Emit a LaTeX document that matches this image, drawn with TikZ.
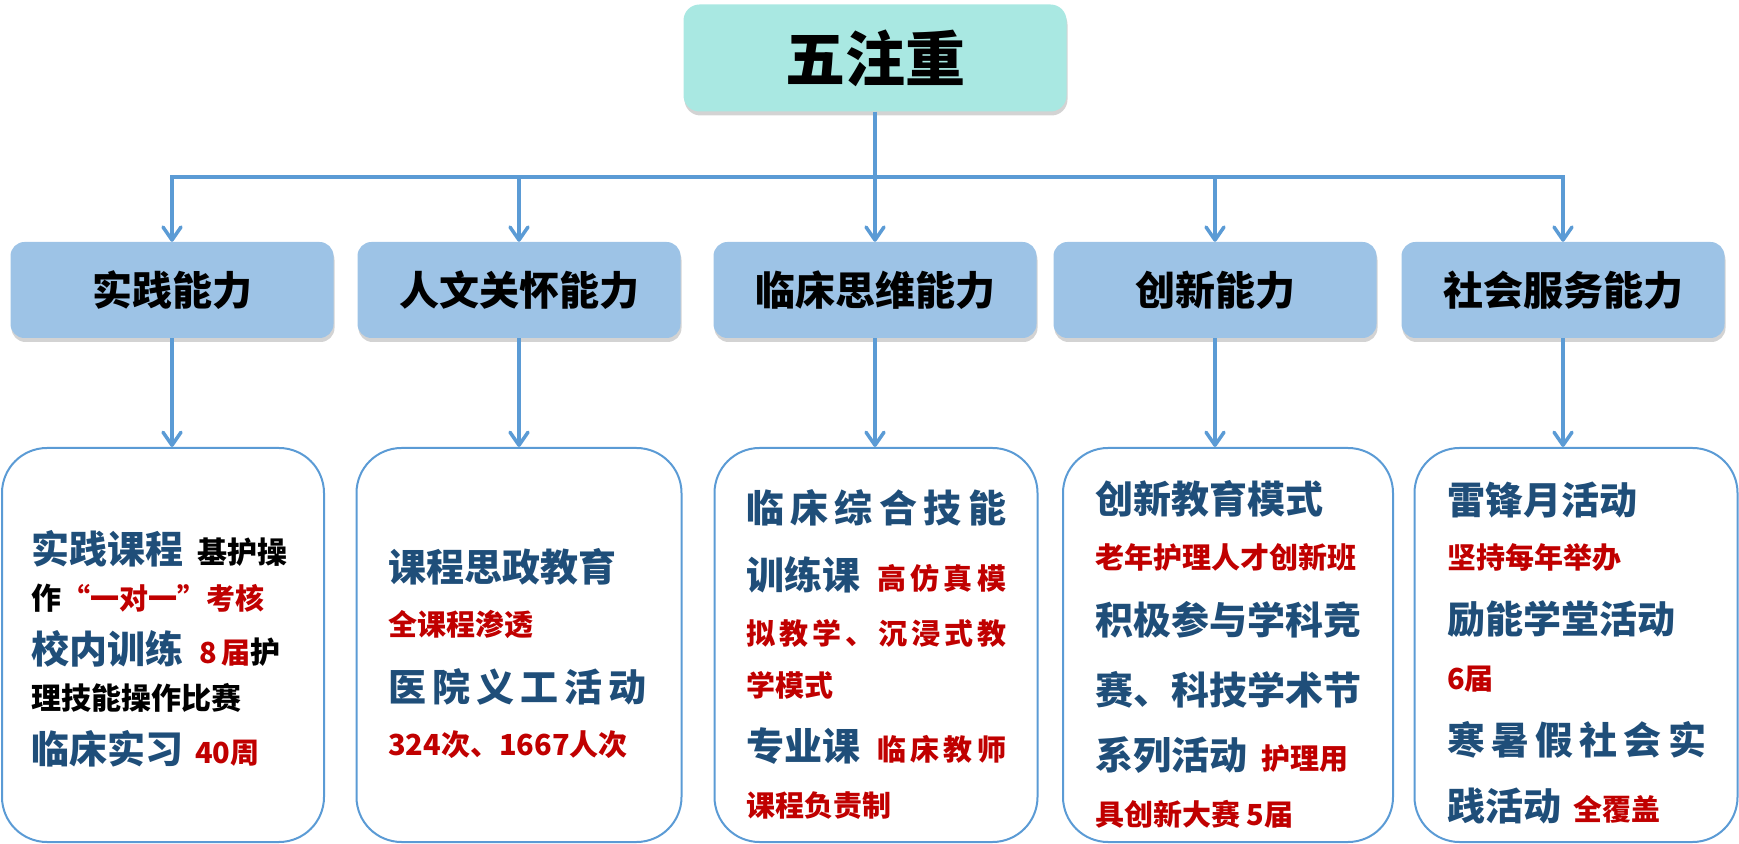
\documentclass[tikz,border=0pt]{standalone}
\usepackage{fontspec}
\setmainfont{Noto Sans CJK SC}
\newfontfamily\heavy{Noto Sans CJK SC}[UprightFont={* Black}]
\usetikzlibrary{arrows.meta, shadows}

\definecolor{headfill}{RGB}{169,232,226}
\definecolor{abilityfill}{RGB}{157,195,230}
\definecolor{linkblue}{RGB}{91,155,213}
\definecolor{deepblue}{RGB}{31,78,121}
\definecolor{darkred}{RGB}{192,0,0}

% text pieces inside the lower boxes
\newcommand{\hi}[1]{{\color{deepblue}\fontsize{38}{38}\selectfont #1}}
\newcommand{\nt}[1]{{\color{darkred}\fontsize{29}{29}\selectfont #1}}
\newcommand{\bk}[1]{{\color{black}\fontsize{30}{30}\selectfont #1}}
\newcommand{\spreadline}[2][260pt]{\makebox[#1][s]{\spaceskip=0pt plus 1fil #2}}

\begin{document}
\begin{tikzpicture}[x=1pt, y=1pt,
	headbox/.style={fill=headfill, rounded corners=16pt, minimum width=383pt, minimum height=107pt,
		drop shadow={shadow xshift=1pt, shadow yshift=-4pt, opacity=0.35},
		font=\heavy\fontsize{60}{60}\selectfont},
	abilitybox/.style={fill=abilityfill, rounded corners=14pt, minimum width=323pt, minimum height=96pt,
		drop shadow={shadow xshift=1pt, shadow yshift=-4pt, opacity=0.35},
		font=\heavy\fontsize{40}{40}\selectfont},
	detailbox/.style={draw=linkblue, line width=2pt, rounded corners=45pt, minimum height=394pt},
	detailtext/.style={anchor=base west, align=left, inner sep=0pt, font=\bfseries\fontsize{29}{#1}\selectfont},
	feed/.style={draw=linkblue, line width=3.5pt},
	link/.style={feed, -{Straight Barb[length=13pt, width=18pt, round]}}]
	\useasboundingbox (0,0) rectangle (1739,843);
	% NOTE: (0,0) is the bottom left corner, 1pt per pixel of the page.
	\node[headbox] (head) at (875,785) {五注重};

	\node[abilitybox] (ab1) at (172,553) {实践能力};
	\node[abilitybox] (ab2) at (519,553) {人文关怀能力};
	\node[abilitybox] (ab3) at (875,553) {临床思维能力};
	\node[abilitybox] (ab4) at (1215,553) {创新能力};
	\node[abilitybox] (ab5) at (1563,553) {社会服务能力};

	\node[detailbox, minimum width=322pt] (de1) at (163,198) {};
	\node[detailbox, minimum width=325pt] (de2) at (519,198) {};
	\node[detailbox, minimum width=323pt] (de3) at (876,198) {};
	\node[detailbox, minimum width=330pt] (de4) at (1228,198) {};
	\node[detailbox, minimum width=323pt] (de5) at (1576,198) {};

	\coordinate (hub) at (875,666);
	\draw[feed] (head.south) -- (hub);
	\draw[link] (hub) -| (ab1.north);
	\draw[link] (hub) -| (ab2.north);
	\draw[link] (hub) -- (ab3.north);
	\draw[link] (hub) -| (ab4.north);
	\draw[link] (hub) -| (ab5.north);

	\draw[link] (ab1.south) -- (ab1.south |- de1.north);
	\draw[link] (ab2.south) -- (ab2.south |- de2.north);
	\draw[link] (ab3.south) -- (ab3.south |- de3.north);
	\draw[link] (ab4.south) -- (ab4.south |- de4.north);
	\draw[link] (ab5.south) -- (ab5.south |- de5.north);

	% base of each text block = baseline of its last line
	\node[detailtext=46] (tx1) at (31,79) {%
		\hi{实践课程}\hspace{14pt}\bk{基护操}\\
		\bk{作}\nt{“一对一”考核}\\[8pt]
		\hi{校内训练}\hspace{16pt}\nt{8\,届}\bk{护}\\
		\bk{理技能操作比赛}\\[8pt]
		\hi{临床实习}\hspace{12pt}\nt{40周}};
	\node[detailtext=54] (tx2) at (388,87) {%
		\hi{课程思政教育}\\
		\nt{全课程渗透}\\[12pt]
		\spreadline[258pt]{\hi{医 院 义 工 活 动}}\\
		\nt{324次、1667人次}};
	\node[detailtext=51] (tx3) at (746,27) {%
		\spreadline{\hi{临 床 综 合 技 能}}\\[16pt]
		\spreadline{\hi{训练课}\hspace{0pt plus 4fil}\nt{高 仿 真 模}}\\[5pt]
		\spreadline{\nt{拟 教 学 、 沉 浸 式 教}}\\
		\nt{学模式}\\[13pt]
		\spreadline{\hi{专业课}\hspace{0pt plus 4fil}\nt{临 床 教 师}}\\[5pt]
		\nt{课程负责制}};
	\node[detailtext=54] (tx4) at (1095,18) {%
		\hi{创新教育模式}\\
		\nt{老年护理人才创新班}\\[13pt]
		\hi{积极参与学科竞}\\[15pt]
		\hi{赛、科技学术节}\\[11pt]
		\hi{系列活动}\hspace{14pt}\nt{护理用}\\[2pt]
		\nt{具创新大赛 5届}};
	\node[detailtext=55] (tx5) at (1447,23) {%
		\hi{雷锋月活动}\\
		\nt{坚持每年举办}\\[10pt]
		\hi{励能学堂活动}\\
		\nt{6届}\\[10pt]
		\spreadline[259pt]{\hi{寒 暑 假 社 会 实}}\\[11pt]
		\hi{践活动}\hspace{12pt}\nt{全覆盖}};
\end{tikzpicture}
\end{document}
